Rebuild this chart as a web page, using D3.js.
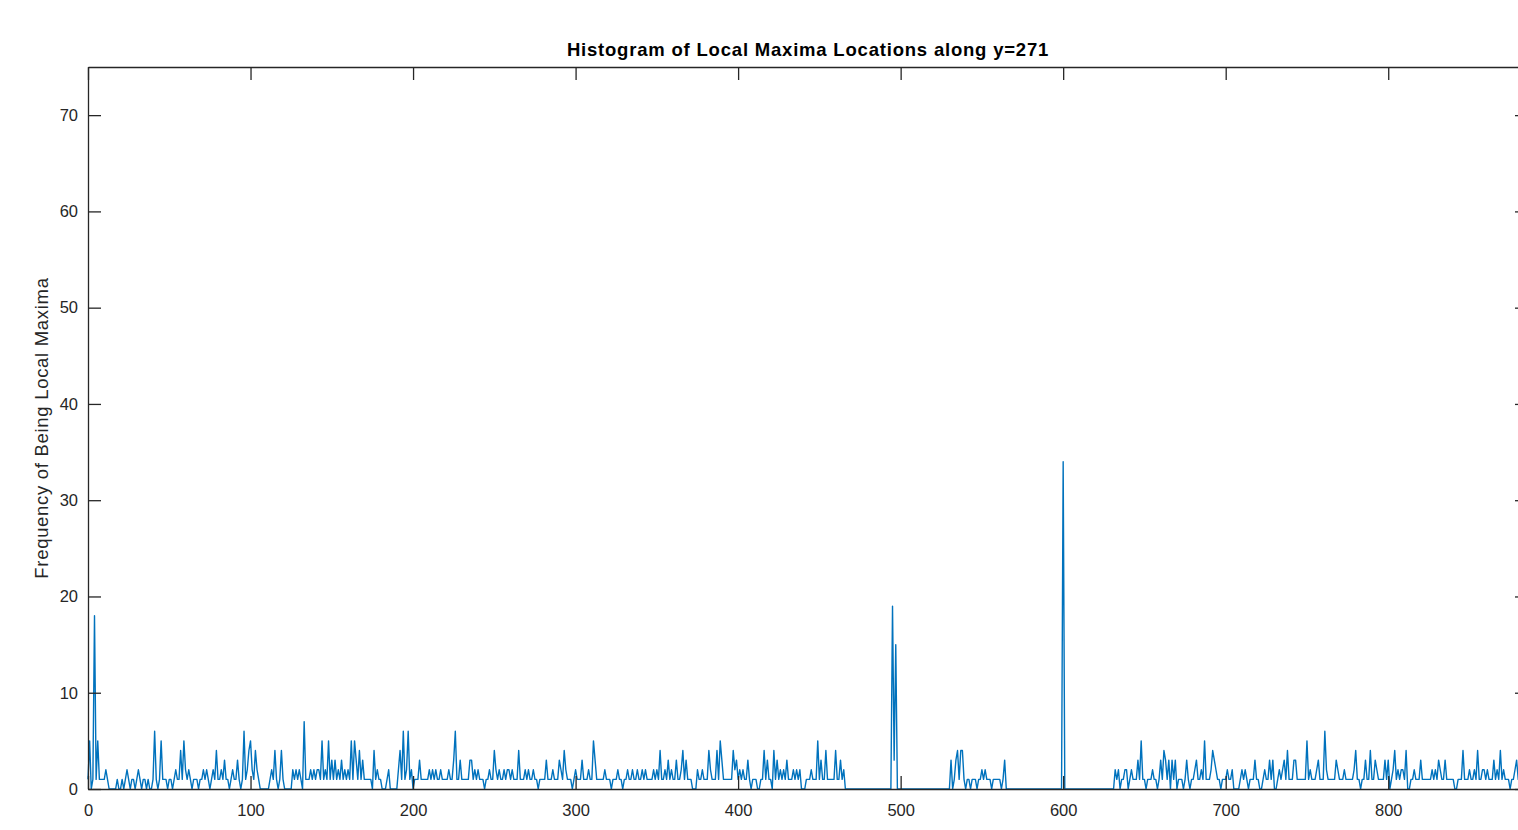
<!DOCTYPE html>
<html>
<head>
<meta charset="utf-8">
<script src="https://cdn.jsdelivr.net/npm/d3@7"></script>
<style>
  body { margin: 0; background: #fff; }
  svg { display: block; font-family: "Liberation Sans", Arial, Helvetica, sans-serif; }
</style>
</head>
<body>
<div class="chart"></div>
<script>
// counts per x position in blocks of 100
const seg000 = [1,5,0,1,18,1,5,1,1,1, 1,2,1,0,0,0,0,0,1,0, 0,1,0,1,2,1,0,1,1,0, 1,2,1,0,1,1,0,1,0,0,
  1,6,1,0,1,5,1,1,1,0, 1,1,0,1,2,1,1,4,1,5, 2,1,2,1,0,1,1,1,0,1, 1,2,1,2,1,0,1,2,1,4,
  1,1,2,1,3,1,1,0,1,2, 1,1,3,1,0,1,6,1,2,4];
const seg100 = [5,2,1,4,2,1,0,0,0,0, 0,0,1,2,1,4,1,0,1,4, 1,0,0,0,0,0,2,1,2,1, 2,1,0,7,1,1,1,2,1,2,
  1,2,2,1,5,1,2,1,5,1, 3,1,3,1,2,1,3,1,2,1, 2,1,5,1,5,3,1,4,1,3, 1,1,1,1,1,0,4,1,2,1,
  1,0,0,0,1,2,0,0,0,0, 0,2,4,1,6,1,2,6,1,2];
const seg200 = [0,1,1,1,3,1,1,1,1,1, 2,1,2,1,2,1,1,2,1,1, 1,1,2,1,1,3,6,1,1,3, 1,1,1,1,1,3,3,1,2,1,
  2,1,1,1,0,1,1,2,1,1, 4,2,1,2,1,1,2,1,2,2, 1,2,1,1,1,4,1,1,1,2, 1,2,1,1,2,1,1,0,1,1,
  1,1,3,1,1,1,2,1,1,1, 3,2,1,4,2,1,1,1,0,1];
const seg300 = [2,1,1,1,3,1,1,1,2,1, 1,5,3,1,1,1,1,1,2,1, 1,1,0,1,1,1,2,1,1,0, 1,1,2,1,1,2,1,1,2,1,
  1,2,1,2,1,1,1,1,2,1, 2,1,4,1,1,2,1,3,1,2, 1,1,3,1,1,2,4,1,3,1, 1,1,0,0,0,2,1,1,2,1,
  1,1,4,2,1,1,1,4,1,5, 3,1,1,1,1,1,1,4,2,3];
const seg400 = [1,2,1,2,1,1,3,1,0,1, 1,1,0,0,1,1,4,1,3,1, 1,0,4,1,3,1,2,1,2,1, 3,1,1,1,2,1,2,1,2,0,
  0,0,1,1,1,2,1,1,1,5, 1,3,1,1,4,1,1,1,1,1, 4,1,1,3,1,2,0,0,0,0, 0,0,0,0,0,0,0,0,0,0,
  0,0,0,0,0,0,0,0,0,0, 0,0,0,0,0,19,3,15,0,0];
const seg500 = [0,0,0,0,0,0,0,0,0,0, 0,0,0,0,0,0,0,0,0,0, 0,0,0,0,0,0,0,0,0,0, 0,3,0,1,3,4,1,4,4,1,
  0,1,1,0,1,1,1,0,1,1, 2,1,2,1,1,1,0,1,1,1, 1,1,0,1,3,0,0,0,0,0, 0,0,0,0,0,0,0,0,0,0,
  0,0,0,0,0,0,0,0,0,0, 0,0,0,0,0,0,0,0,0,0];
const seg600 = [34,0,0,0,0,0,0,0,0,0, 0,0,0,0,0,0,0,0,0,0, 0,0,0,0,0,0,0,0,0,0, 0,0,2,1,2,0,1,1,2,2,
  0,1,2,1,1,1,3,1,5,1, 1,0,1,1,1,2,1,1,0,1, 3,1,4,3,1,3,0,3,1,3, 0,1,1,1,0,1,3,1,0,1,
  1,2,3,1,1,2,1,5,1,1, 1,2,4,3,2,1,1,0,1,1];
const seg700 = [1,2,1,1,2,0,0,0,0,1, 2,1,2,1,0,1,1,1,3,1, 1,0,0,1,2,1,1,3,1,3, 0,0,1,2,1,2,3,1,4,1,
  1,1,3,3,1,1,1,1,1,1, 5,1,2,1,1,1,2,3,1,1, 1,6,2,1,1,1,1,1,3,2, 1,1,1,2,1,1,1,1,1,2,
  4,1,1,0,1,1,3,1,1,4, 1,1,3,2,1,1,1,1,3,1];
const seg800 = [3,0,1,2,4,1,2,1,2,2, 1,4,0,0,1,1,2,1,1,1, 3,1,1,1,1,1,1,2,1,2, 1,3,2,1,1,3,1,1,1,1,
  1,0,0,1,1,1,4,1,1,1, 2,1,1,2,1,4,1,1,2,2, 1,2,1,1,1,3,1,2,1,4, 1,2,1,1,1,0,1,1,2,3,
  1,2,1,0,1,2,1];

const xTicks = [0, 100, 200, 300, 400, 500, 600, 700, 800];
const yTicks = [0, 10, 20, 30, 40, 50, 60, 70];
const xRange = [0, 886];
const yRange = [0, 75];

const title = "Histogram of Local Maxima Locations along y=271";
const yTitle = "Frequency of Being Local Maxima";

const counts = [].concat(seg000, seg100, seg200, seg300, seg400, seg500, seg600, seg700, seg800);

const W = 1518, H = 830;
const margin = {top: 67, left: 88, right: 1528, bottom: 789};   // axes box corners (right edge is off the page)
const tickLen = 13;
const axisColor = "#262626";

const svg = d3.select(".chart")
  .append("svg")
    .attr("width", W)
    .attr("height", H);

svg.append("rect").attr("width", W).attr("height", H).attr("fill", "white");

const x = d3.scaleLinear().domain(xRange).range([margin.left, margin.right]);
const y = d3.scaleLinear().domain(yRange).range([margin.bottom, margin.top]);

// data line
const line = d3.line()
  .x((d, i) => x(i))
  .y(d => y(d));

svg.append("path")
  .datum(counts)
  .attr("d", line)
  .attr("fill", "none")
  .attr("stroke", "#0072BD")
  .attr("stroke-width", 1.4)
  .attr("stroke-linejoin", "round");

// box: ticks point inwards on all four sides, like matlab
const fmt = d3.format("d");
const bottomAxis = svg.append("g")
  .attr("transform", `translate(0, ${margin.bottom})`)
  .call(d3.axisBottom(x).tickValues(xTicks).tickSizeInner(-tickLen).tickSizeOuter(0).tickPadding(tickLen + 2).tickFormat(fmt));
const topAxis = svg.append("g")
  .attr("transform", `translate(0, ${margin.top})`)
  .call(d3.axisTop(x).tickValues(xTicks).tickSizeInner(-tickLen).tickSizeOuter(0).tickFormat(""));
const leftAxis = svg.append("g")
  .attr("transform", `translate(${margin.left}, 0)`)
  .call(d3.axisLeft(y).tickValues(yTicks).tickSizeInner(-tickLen).tickSizeOuter(0).tickPadding(10).tickFormat(fmt));
const rightAxis = svg.append("g")
  .attr("transform", `translate(${margin.right}, 0)`)
  .call(d3.axisRight(y).tickValues(yTicks).tickSizeInner(-tickLen).tickSizeOuter(0).tickFormat(""));

[bottomAxis, topAxis, leftAxis, rightAxis].forEach(g => {
  g.select(".domain").attr("stroke", axisColor).attr("stroke-width", 1.3);
  g.selectAll(".tick line").attr("stroke", axisColor).attr("stroke-width", 1.3);
  g.selectAll(".tick text")
    .attr("fill", axisColor)
    .style("font-size", "16.5px")
    .style("font-family", "Liberation Sans, Arial, sans-serif");
});
bottomAxis.selectAll(".tick text").attr("dy", "0.71em");

// title
svg.append("text")
  .attr("x", (margin.left + margin.right) / 2)
  .attr("y", 56)
  .attr("text-anchor", "middle")
  .attr("fill", "black")
  .style("font-weight", "bold")
  .style("font-size", "18.5px")
  .style("letter-spacing", "0.8px")
  .text(title);

// y label
svg.append("text")
  .attr("transform", `translate(48, ${(margin.top + margin.bottom) / 2}) rotate(-90)`)
  .attr("text-anchor", "middle")
  .attr("fill", axisColor)
  .style("font-size", "18.5px")
  .style("letter-spacing", "0.7px")
  .text(yTitle);
</script>
</body>
</html>
